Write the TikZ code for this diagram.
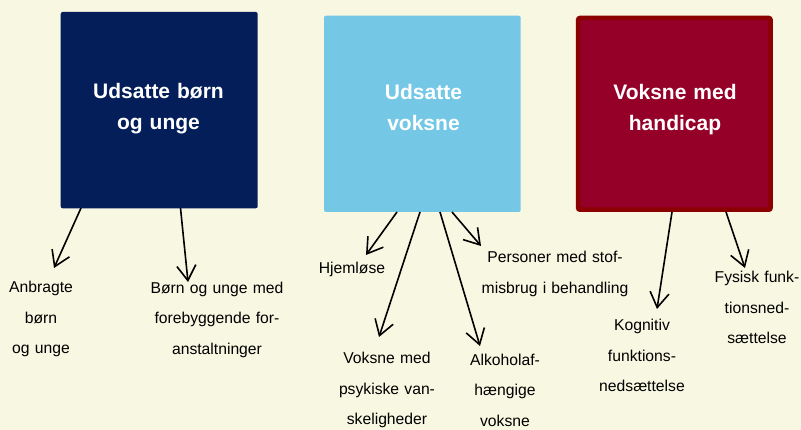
\documentclass[tikz,border=0pt]{standalone}
\usepackage{fontspec}
\setmainfont{Liberation Sans}
\usetikzlibrary{arrows.meta}
\definecolor{bg}{RGB}{248,247,226}
\definecolor{navy}{RGB}{4,30,90}
\definecolor{sky}{RGB}{116,200,230}
\definecolor{wine}{RGB}{149,0,40}
\definecolor{wineedge}{RGB}{139,0,0}
\begin{document}
\begin{tikzpicture}[x=1pt,y=-1pt,
  box/.style={rectangle, rounded corners=2pt, inner sep=0pt, outer sep=0pt},
  title/.style={text=white, font=\bfseries\fontsize{21}{30.5}\selectfont, align=center, text width=190pt, anchor=base, inner sep=0pt},
  lbl/.style={text=black, font=\fontsize{15.7}{30.5}\selectfont, align=center, text width=160pt, anchor=base, inner sep=0pt},
  conn/.style={draw=black, line width=1.6pt, -{Straight Barb[length=15pt,width=19pt]}}]
\useasboundingbox[fill=bg] (0,0) rectangle (801,430);
% boxes
\node[box, fill=navy, minimum width=197pt, minimum height=196.3pt] (b1) at (159.2,110.15) {};
\node[box, fill=sky, minimum width=196.7pt, minimum height=196.3pt] (b2) at (422.35,113.85) {};
\node[box, fill=wine, draw=wineedge, line width=4.5pt, minimum width=192.5pt, minimum height=191.8pt] (b3) at (674.35,113.85) {};
% titles
\node[title] (t1) at (158.5,99) {Udsatte børn\\og unge};
\node[title] (t2) at (423.5,100) {Udsatte\\voksne};
\node[title] (t3) at (675,100) {Voksne med\\handicap};
% labels
\node[lbl] (l1) at (41,292.7) {Anbragte\\børn\\og unge};
\node[lbl] (l2) at (217,293.3) {Børn og unge med\\forebyggende for-\\anstaltninger};
\node[lbl] (l3) at (352,273.3) {Hjemløse};
\node[lbl] (l4) at (555,262.7) {Personer med stof-\\misbrug i behandling};
\node[lbl] (l5) at (387,364) {Voksne med\\psykiske van-\\skeligheder};
\node[lbl] (l6) at (505,365.5) {Alkoholaf-\\hængige\\voksne};
\node[lbl] (l7) at (642,331) {Kognitiv\\funktions-\\nedsættelse};
\node[lbl] (l8) at (757,282.7) {Fysisk funk-\\tionsned-\\sættelse};
% connector ends
\coordinate (s1) at (81,208);   \coordinate (e1) at (54,268);
\coordinate (s2) at (180.5,208);\coordinate (e2) at (188,282);
\coordinate (s3) at (397,212);  \coordinate (e3) at (366,255);
\coordinate (s4) at (420,212);  \coordinate (e4) at (379,337);
\coordinate (s5) at (440,212);  \coordinate (e5) at (480,346);
\coordinate (s6) at (452,212);  \coordinate (e6) at (481,246);
\coordinate (s7) at (672,212);  \coordinate (e7) at (657,309);
\coordinate (s8) at (726,212);  \coordinate (e8) at (745,268);
\foreach \i in {1,...,8} {\draw[conn] (s\i) -- (e\i);}
\end{tikzpicture}
\end{document}
